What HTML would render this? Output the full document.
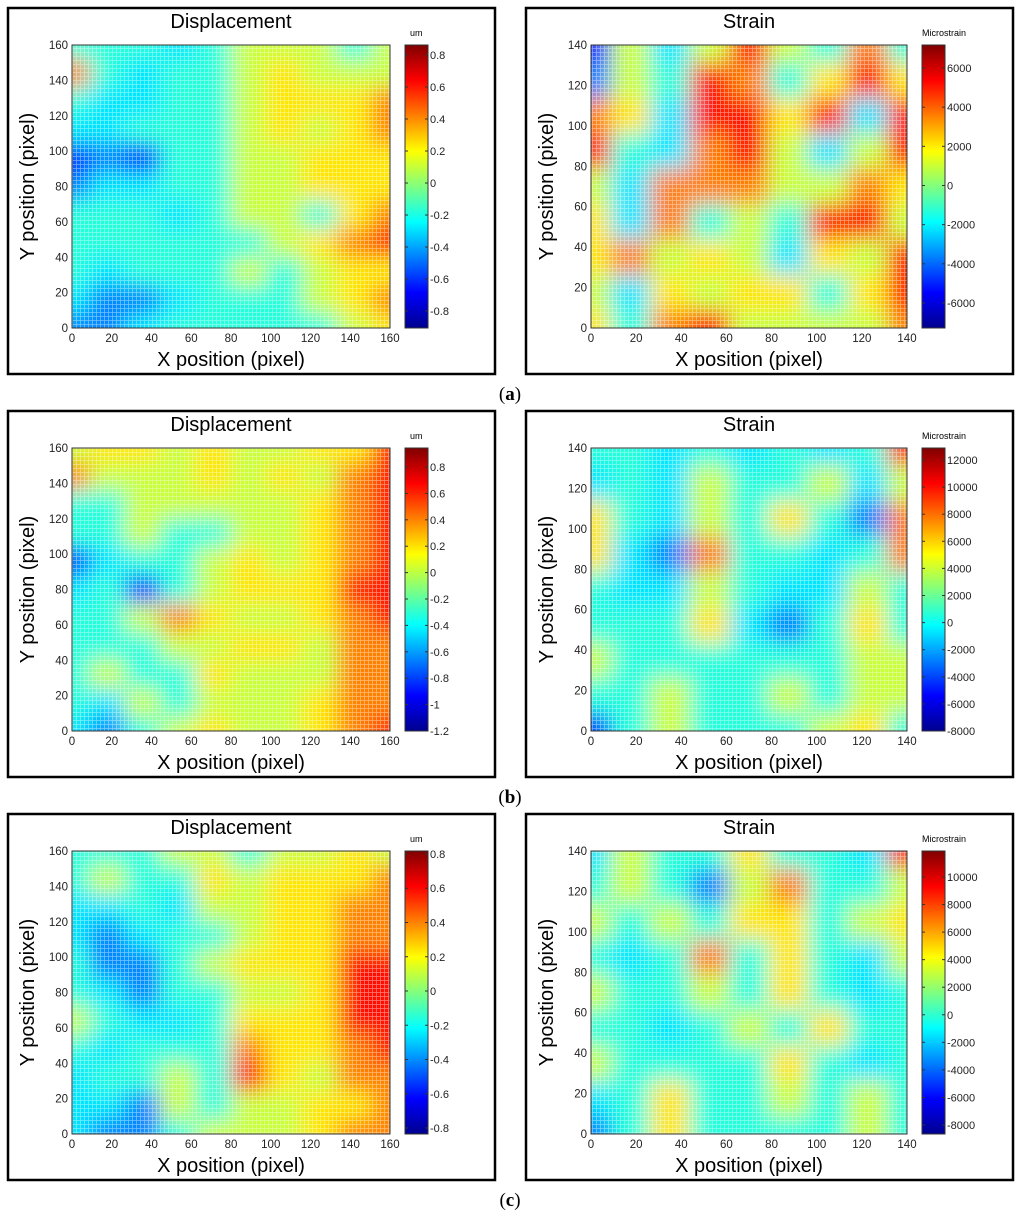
<!DOCTYPE html>
<html><head><meta charset="utf-8"><style>
html,body{margin:0;padding:0;background:#fff;}
body{width:1024px;height:1220px;position:relative;overflow:hidden;font-family:"Liberation Sans",sans-serif;}
svg{position:absolute;left:0;top:0;}
</style></head><body>
<svg id="fig" width="1024" height="1220" viewBox="0 0 1024 1220">
<defs>
<linearGradient id="jet" x1="0" y1="1" x2="0" y2="0">
<stop offset="0" stop-color="#00008f"/><stop offset="0.125" stop-color="#0000ff"/>
<stop offset="0.375" stop-color="#00ffff"/><stop offset="0.625" stop-color="#ffff00"/>
<stop offset="0.875" stop-color="#ff0000"/><stop offset="1" stop-color="#800000"/>
</linearGradient>
<pattern id="grid" width="4" height="4" patternUnits="userSpaceOnUse">
<path d="M0 0.5H4M0.5 0V4" stroke="#fff" stroke-width="0.8" opacity="0.45"/>
</pattern>
<filter id="blur" x="-20%" y="-20%" width="140%" height="140%"><feGaussianBlur stdDeviation="11"/></filter>
</defs>
</svg>
<script>
// Heatmap data: values 0..9 on jet scale; rows from top (max y) to bottom (y=0)
const dispA=[[4,4,4,3,4,5,5,5,4,5],[7,4,3,4,4,5,6,5,5,5],[4,3,3,4,4,5,6,6,6,7],[3,3,4,4,4,5,6,5,6,7],[1,2,1,4,4,5,5,6,6,6],[2,3,3,4,4,5,5,6,6,6],[4,4,4,3,4,5,5,4,6,7],[4,4,4,4,4,4,5,6,7,8],[4,3,4,4,4,5,4,5,6,6],[3,2,2,3,4,4,4,5,6,7],[2,2,3,4,4,4,4,4,5,6]];
const strainA=[[1,5,3,5,8,5,4,7,4],[2,5,4,8,7,4,6,8,6],[7,6,3,8,8,6,8,3,8],[8,4,3,7,8,5,3,5,8],[5,3,7,7,7,5,5,7,6],[6,3,7,4,5,4,8,8,5],[6,7,5,6,5,3,6,5,8],[5,3,6,5,6,6,4,6,8],[6,4,7,8,5,5,5,5,7]];
const dispB=[[5,6,6,5,6,5,5,6,6,8],[7,5,5,5,6,5,6,5,7,8],[4,4,5,5,5,5,5,6,7,8],[4,4,5,4,4,5,5,6,7,8],[1,3,4,4,5,6,5,6,7,8],[3,4,1,4,5,6,6,6,8,8],[4,4,5,7,6,5,5,6,7,8],[4,4,4,5,5,6,6,5,7,7],[4,5,4,4,6,5,5,5,7,7],[4,3,5,4,5,5,5,6,7,7],[3,2,4,5,6,5,5,6,7,8]];
const strainB=[[4,4,3,4,3,4,3,4,8],[3,4,3,5,4,4,5,3,5],[6,4,3,5,4,6,4,2,7],[6,3,2,7,4,4,3,4,7],[4,3,3,5,4,3,3,5,4],[4,4,4,6,3,2,4,6,4],[5,4,4,4,4,4,4,5,5],[4,4,5,4,4,5,4,5,5],[1,4,5,4,4,4,5,6,4]];
const dispC=[[4,4,4,5,5,4,5,5,6,5],[4,5,4,4,6,5,6,6,6,7],[3,3,4,3,5,5,6,6,7,7],[3,2,3,4,4,5,6,6,7,7],[4,2,2,4,5,6,6,6,8,8],[4,3,2,4,4,5,5,6,8,8],[5,4,3,3,4,6,6,6,8,8],[4,3,4,4,4,7,6,6,7,8],[3,4,4,5,4,8,6,5,7,7],[3,3,2,5,4,5,5,6,6,7],[3,2,2,4,5,5,5,6,7,7]];
const strainC=[[3,5,4,4,6,4,4,3,8],[4,5,4,2,5,7,4,4,5],[5,4,5,4,6,6,4,5,6],[4,3,4,7,4,6,4,3,5],[5,4,4,5,4,6,4,3,4],[4,4,3,4,5,4,6,4,4],[5,4,4,4,4,6,4,3,4],[3,4,6,4,4,5,4,5,4],[2,4,6,4,4,4,4,5,4]];
const dispXTicks=[0,20,40,60,80,100,120,140,160];
const strainXTicks=[0,20,40,60,80,100,120,140];
const cbDispA=[0.8,0.6,0.4,0.2,0,-0.2,-0.4,-0.6,-0.8];
const cbStrainA=[6000,4000,2000,0,-2000,-4000,-6000];
const cbDispB=[0.8,0.6,0.4,0.2,0,-0.2,-0.4,-0.6,-0.8,-1,-1.2];
const cbStrainB=[12000,10000,8000,6000,4000,2000,0,-2000,-4000,-6000,-8000];
const cbDispC=[0.8,0.6,0.4,0.2,0,-0.2,-0.4,-0.6,-0.8];
const cbStrainC=[10000,8000,6000,4000,2000,0,-2000,-4000,-6000,-8000];
const captions=["a","b","c"];
const levelColor=[0.08,0.15,0.25,0.35,0.41,0.57,0.65,0.75,0.86,0.95];

const NS="http://www.w3.org/2000/svg";
const fig=document.getElementById('fig');
function mk(tag,attrs,parent){const e=document.createElementNS(NS,tag);for(const k in attrs)e.setAttribute(k,attrs[k]);(parent||fig).appendChild(e);return e;}
function jet(t){t=Math.max(0,Math.min(1,t));
 const r=Math.max(0,Math.min(1,Math.min(4*t-1.5,-4*t+4.5)));
 const g=Math.max(0,Math.min(1,Math.min(4*t-0.5,-4*t+3.5)));
 const b=Math.max(0,Math.min(1,Math.min(4*t+0.5,-4*t+2.5)));
 return `rgb(${Math.round(r*255)},${Math.round(g*255)},${Math.round(b*255)})`;}
function level(v){const i=Math.max(0,Math.min(9,Math.floor(v)));const f=v-i;return i>=9?levelColor[9]:levelColor[i]*(1-f)+levelColor[i+1]*f;}
let uid=0;
function panel(bx,by,bw,title,data,xTicks,maxV,unit,cbTicks,cbMin,cbMax,px,pw,cbx){
 const box=mk('rect',{x:bx,y:by,width:bw,height:366,fill:'none',stroke:'#000','stroke-width':2.5});
 
 
 const py=by+37,ph=283;
 const t=mk('text',{x:px+pw/2,y:by+20,'text-anchor':'middle','font-size':20});t.textContent=title;
 
 
 const id='c'+(uid++);
 const cp=mk('clipPath',{id:id});mk('rect',{x:px,y:py,width:pw,height:ph},cp);
 const g=mk('g',{'clip-path':`url(#${id})`});
 
 
 const gb=mk('g',{filter:'url(#blur)'},g);
 const rows=data.length,cols=data[0].length;
 const cw=pw/(cols-1),rh=ph/(rows-1);
 for(let r=0;r<rows;r++)for(let c=0;c<cols;c++){
  const cell=mk('rect',{x:px+(c-0.5)*cw,y:py+(r-0.5)*rh,width:cw+1,height:rh+1,fill:jet(level(data[r][c]))},gb);
  
  
 }
 mk('rect',{x:px,y:py,width:pw,height:ph,fill:'url(#grid)'},g);
 mk('rect',{x:px,y:py,width:pw,height:ph,fill:'none',stroke:'#333','stroke-width':1});
 const sx=v=>px+v/maxV*pw, sy=v=>py+ph-v/maxV*ph;
 xTicks.forEach(v=>{
  const tx=mk('text',{x:sx(v),y:py+ph+14,'text-anchor':'middle','font-size':11.5,fill:'#222'});tx.textContent=v;
  
  
  const ty=mk('text',{x:px-4,y:sy(v)+4,'text-anchor':'end','font-size':11.5,fill:'#222'});ty.textContent=v;
  
  
 });
 const xl=mk('text',{x:px+pw/2,y:by+358,'text-anchor':'middle','font-size':20});xl.textContent='X position (pixel)';
 
 
 const yx=px-38,yy=py+ph/2;
 const yl=mk('text',{x:yx,y:yy,'text-anchor':'middle','font-size':20,transform:`rotate(-90 ${yx} ${yy})`});yl.textContent='Y position (pixel)';
 
 
 const cb=mk('rect',{x:cbx,y:py,width:23,height:ph,fill:'url(#jet)',stroke:'#333','stroke-width':1});
 
 
 const ul=mk('text',{x:unit==='um'?cbx+5:cbx,y:py-9,'font-size':9});ul.textContent=unit;
 
 
 const cy=v=>py+(cbMax-v)/(cbMax-cbMin)*ph;
 cbTicks.forEach(v=>{
  mk('line',{x1:cbx,x2:cbx+3,y1:cy(v),y2:cy(v),stroke:'#333'});
  mk('line',{x1:cbx+20,x2:cbx+23,y1:cy(v),y2:cy(v),stroke:'#333'});
  const tl=mk('text',{x:cbx+25,y:cy(v)+4,'font-size':11,fill:'#222'});tl.textContent=v;
  
  
 });
}
const rowsY=[8,411,814];
const dd=[dispA,dispB,dispC],ss=[strainA,strainB,strainC];
const cbd=[cbDispA,cbDispB,cbDispC],cbs=[cbStrainA,cbStrainB,cbStrainC];
const dRange=[[-0.906,0.8625],[-1.2,0.944],[-0.835,0.8175]];
const sRange=[[-7277,7174],[-8000,12885],[-8653,11887]];
rowsY.forEach((y,i)=>{
 panel(8,y,487,'Displacement',dd[i],dispXTicks,160,'um',cbd[i],dRange[i][0],dRange[i][1],72,318,405);
 panel(526,y,487,'Strain',ss[i],strainXTicks,140,'Microstrain',cbs[i],sRange[i][0],sRange[i][1],591,316,922);
 const cap=mk('text',{x:510,y:y+392,'text-anchor':'middle','font-size':19,'font-family':'Liberation Serif, serif'});
 cap.innerHTML=`(<tspan font-weight="bold">${captions[i]}</tspan>)`;
 
 
});
</script>
</body></html>
